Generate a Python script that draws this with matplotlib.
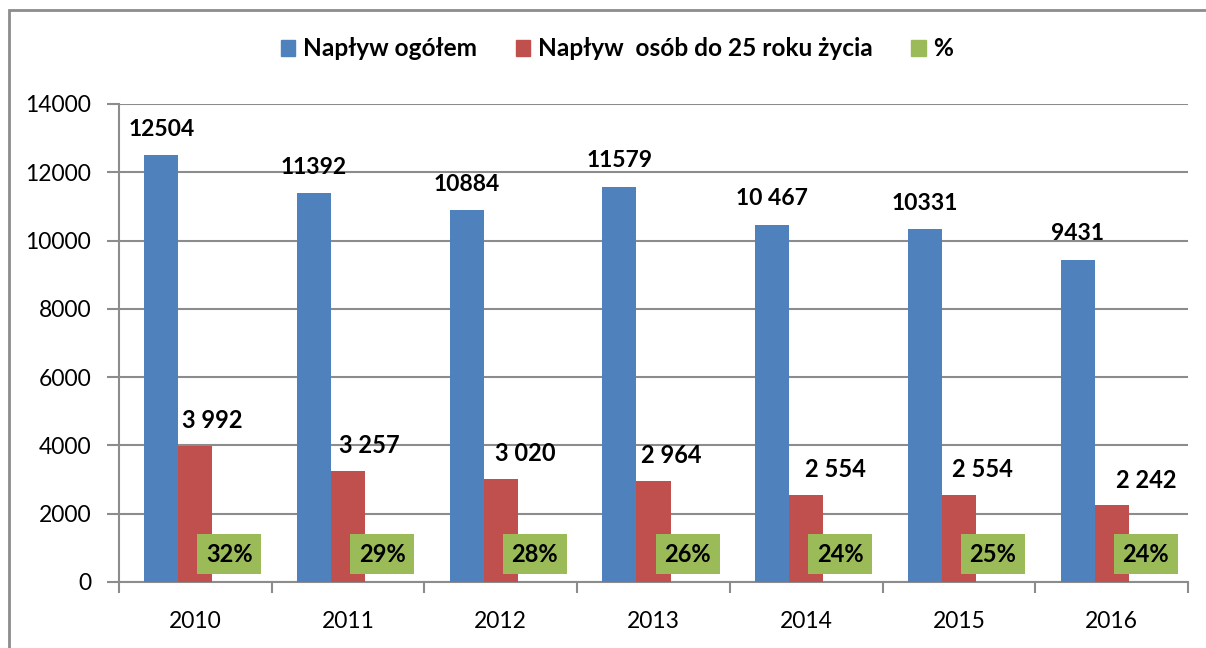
import matplotlib.pyplot as plt
import numpy as np
from matplotlib.patches import Rectangle, Patch

plt.rcParams["font.family"] = ["Lato", "DejaVu Sans"]

years = ["2010", "2011", "2012", "2013", "2014", "2015", "2016"]
total = [12504, 11392, 10884, 11579, 10467, 10331, 9431]
young = [3992, 3257, 3020, 2964, 2554, 2554, 2242]
share = [0.32, 0.29, 0.28, 0.26, 0.24, 0.25, 0.24]
total_labels = ["12504", "11392", "10884", "11579", "10 467", "10331", "9431"]
young_labels = ["3 992", "3 257", "3 020", "2 964", "2 554", "2 554", "2 242"]
share_labels = ["32%", "29%", "28%", "26%", "24%", "25%", "24%"]
series_names = ["Napływ ogółem", "Napływ  osób do 25 roku życia", "%"]

# moved label offsets (pixels, right) for the red series, like in the source chart
young_dx = [17, 21, 25, 18, 29, 24, 35]

BLUE, RED, GREEN = "#4F81BD", "#C0504D", "#9BBB59"
GRIDC = "#8c8c8c"

W, H = 1206, 648
fig = plt.figure(figsize=(W / 100, H / 100), dpi=100)
ax = fig.add_axes([119 / W, (H - 582) / H, (1188 - 119) / W, (582 - 104) / H])

x = np.arange(len(years))
bw = 0.223
ax.bar(x - bw, total, bw, color=BLUE, zorder=3)
ax.bar(x, young, bw, color=RED, zorder=3)
ax.bar(x + bw, share, bw, color=GREEN, zorder=3)

ax.set_xlim(-0.5, len(years) - 0.5)
ax.set_ylim(0, 14000)
ax.set_yticks(np.arange(0, 14001, 2000))
ax.yaxis.grid(True, color=GRIDC, linewidth=1.5, zorder=0)
ax.set_axisbelow(True)

for s in ["top", "right"]:
    ax.spines[s].set_visible(False)
for s in ["left", "bottom"]:
    ax.spines[s].set_color(GRIDC)
    ax.spines[s].set_linewidth(1.5)

ax.set_xticks(x)
ax.set_xticklabels(years, fontsize=16.5)
ax.tick_params(axis="x", length=0, pad=21)
ax.set_xticks(np.arange(-0.5, len(years), 1), minor=True)
ax.tick_params(axis="x", which="minor", length=8, width=1.5, color=GRIDC, direction="out")
ax.tick_params(axis="y", labelsize=16.5, length=9, width=1.5, color=GRIDC, pad=11)

for i in range(len(years)):
    ax.annotate(total_labels[i], (x[i] - bw, total[i]), xytext=(0, 26),
                textcoords="offset pixels", ha="center", va="center",
                fontsize=16.5, fontweight="bold")
    ax.annotate(young_labels[i], (x[i], young[i]), xytext=(young_dx[i], 25),
                textcoords="offset pixels", ha="center", va="center",
                fontsize=17, fontweight="bold")
    ax.annotate(share_labels[i], (x[i] + bw, 0), xytext=(0, 28),
                textcoords="offset pixels", ha="center", va="center",
                fontsize=17, fontweight="bold",
                bbox=dict(boxstyle="square,pad=0.37", fc=GREEN, ec="none"))

handles = [Patch(color=c) for c in (BLUE, RED, GREEN)]
leg = fig.legend(handles, series_names, loc="center", bbox_to_anchor=(617 / W, (H - 49) / H),
                 ncol=3, frameon=False, borderpad=0, handlelength=0.6, handleheight=0.6,
                 handletextpad=0.3, columnspacing=1.6, prop=dict(size=17.6, weight="bold"))

fig.patches.append(Rectangle((9 / W, -0.05), 1.1, (H - 10) / H + 0.05, transform=fig.transFigure,
                             fill=False, ec=GRIDC, lw=2))

fig.savefig("out.png", dpi=100)
